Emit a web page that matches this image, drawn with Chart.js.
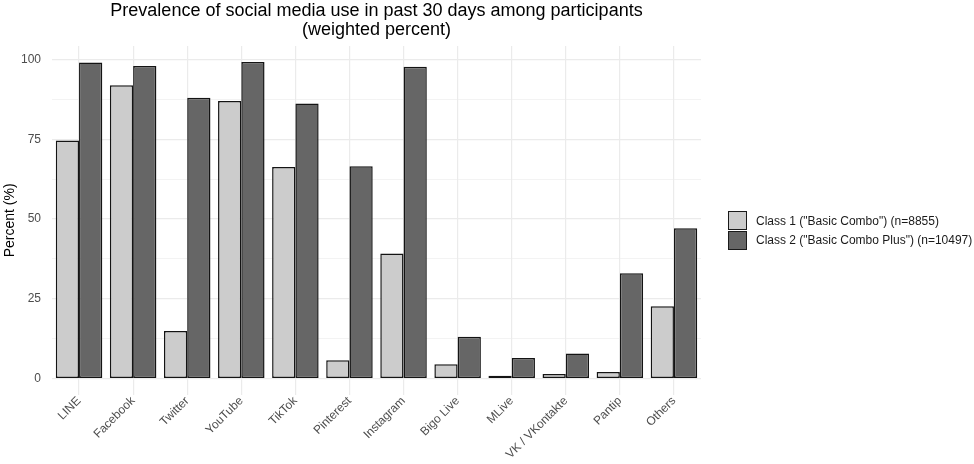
<!DOCTYPE html>
<html>
<head>
<meta charset="utf-8">
<script src="https://cdn.jsdelivr.net/npm/chart.js@4"></script>
<style>
  body { margin: 0; background: #fff; }
  #wrap { position: relative; width: 974px; height: 464px; }
  #legend {
    position: absolute; left: 728px; top: 211px;
    font-family: "Liberation Sans", Arial, sans-serif; font-size: 12px; color: #1a1a1a;
  }
  #legend .item { display: flex; align-items: center; height: 19.5px; white-space: nowrap; }
  #legend .box { width: 17px; height: 17px; border: 1.3px solid #1a1a1a; margin-right: 9px; }
</style>
</head>
<body>
<div id="wrap">
  <canvas id="socialChart"></canvas>
  <div id="legend"></div>
</div>
<script>
const platforms = ['LINE', 'Facebook', 'Twitter', 'YouTube', 'TikTok', 'Pinterest', 'Instagram',
    'Bigo Live', 'MLive', 'VK / VKontakte', 'Pantip', 'Others'];
const class1 = [74.6, 91.9, 14.9, 87.0, 66.3, 5.8, 39.2, 4.5, 0.9, 1.5, 2.1, 22.7];
const class2 = [99.0, 97.9, 88.0, 99.2, 86.2, 66.5, 97.7, 13.1, 6.5, 7.9, 33.0, 47.1];
const yTicks = [0, 12.5, 25, 37.5, 50, 62.5, 75, 87.5, 100];

const fontFamily = '"Liberation Sans", Arial, sans-serif';

const chart = new Chart(document.getElementById('socialChart'), {
    type: 'bar',
    data: {
        labels: platforms,
        datasets: [{
            label: 'Class 1 ("Basic Combo") (n=8855)',
            data: class1,
            backgroundColor: '#cccccc',
            borderColor: '#141414',
            borderWidth: 1.5,
            borderSkipped: false
        }, {
            label: 'Class 2 ("Basic Combo Plus") (n=10497)',
            data: class2,
            backgroundColor: '#666666',
            borderColor: '#141414',
            borderWidth: 1.5,
            borderSkipped: false
        }]
    },
    options: {
        responsive: true,
        maintainAspectRatio: false,
        animation: false,
        layout: { padding: { left: 2, right: 273, top: 0, bottom: 3 } },
        datasets: {
            bar: { categoryPercentage: 0.86, barPercentage: 1.0 }
        },
        plugins: {
            title: {
                display: true,
                fullSize: false,
                text: ['Prevalence of social media use in past 30 days among participants', '(weighted percent)'],
                color: '#000',
                font: { family: fontFamily, size: 18, weight: 'normal', lineHeight: 1.03 },
                padding: { top: 2, bottom: 7 }
            },
            legend: { display: false },
            tooltip: { enabled: false }
        },
        scales: {
            x: {
                grid: { color: '#ebebeb', lineWidth: 1.2, offset: false, drawTicks: false },
                border: { display: false },
                ticks: {
                    minRotation: 45,
                    maxRotation: 45,
                    autoSkip: false,
                    padding: 0,
                    color: '#4d4d4d',
                    font: { family: fontFamily, size: 12, lineHeight: 1.05 }
                }
            },
            y: {
                min: -4.96,
                max: 104.16,
                afterBuildTicks: function(scale) {
                    scale.ticks = yTicks.map(v => ({ value: v }));
                },
                afterFit: function(scale) { scale.width = 50; },
                grid: {
                    color: '#ebebeb',
                    drawTicks: false,
                    lineWidth: function(ctx) {
                        return ctx.tick && ctx.tick.value % 25 === 0 ? 1.2 : 0.6;
                    }
                },
                border: { display: false },
                ticks: {
                    padding: 11,
                    color: '#4d4d4d',
                    font: { family: fontFamily, size: 12 },
                    callback: function(value) { return value % 25 === 0 ? value : ''; }
                },
                title: {
                    display: true,
                    text: 'Percent (%)',
                    color: '#000',
                    font: { family: fontFamily, size: 14 },
                    padding: { top: 0, bottom: 2 }
                }
            }
        }
    }
});

// html legend built from the chart's datasets
const legendEl = document.getElementById('legend');
chart.data.datasets.forEach(function(ds) {
    const item = document.createElement('div');
    item.className = 'item';
    const box = document.createElement('span');
    box.className = 'box';
    box.style.background = ds.backgroundColor;
    const txt = document.createElement('span');
    txt.textContent = ds.label;
    item.appendChild(box);
    item.appendChild(txt);
    legendEl.appendChild(item);
});
</script>
</body>
</html>
